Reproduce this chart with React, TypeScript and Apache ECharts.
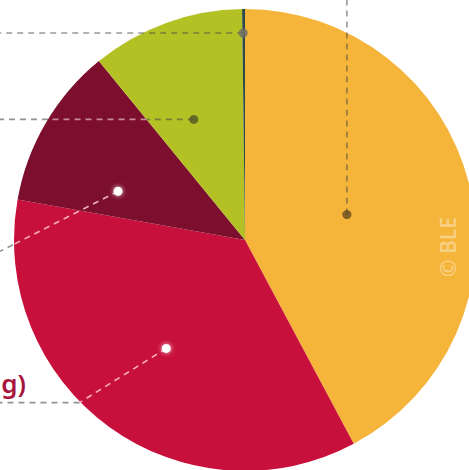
import React, { useEffect, useRef } from "react";
import * as echarts from "echarts";

// Data (shares in %), clockwise from 12 o'clock
const categories = ["Orange", "Rot", "Dunkelrot", "Grün", "Petrol"];
const shares = [42.2, 35.6, 11.3, 10.7, 0.2];
const colors = ["#F5B43A", "#C8103C", "#7C0E2E", "#B4C125", "#2E4A48"];
const labelTexts = ["g)"];

const W = 469;
const H = 470;
const CX = 245;
const CY = 240;
const R = 231;

// Annotation layout: angle (deg, clockwise from top), radius of dot
const annot = [
  { slice: 0, angle: 76, r: 105 },
  { slice: 1, angle: 216, r: 134 },
  { slice: 2, angle: 291, r: 136 },
  { slice: 3, angle: 337, r: 131 },
  { slice: 4, angle: 359.5, r: 207 },
];

function pt(angle: number, r: number) {
  const a = (angle * Math.PI) / 180;
  return [CX + r * Math.sin(a), CY - r * Math.cos(a)];
}

export default function App() {
  const ref = useRef<HTMLDivElement>(null);
  useEffect(() => {
    if (!ref.current) return;
    const chart = echarts.init(ref.current, undefined, { renderer: "svg", width: W, height: H });

    const grey = "rgba(70,70,70,0.55)";
    const pink = "rgba(255,200,215,0.85)";
    const dash = [6, 5];
    const g: any[] = [];
    const seg = (x1: number, y1: number, x2: number, y2: number, color: string) =>
      g.push({
        type: "line",
        shape: { x1, y1, x2, y2 },
        style: { stroke: color, lineWidth: 1.6, lineDash: dash },
        z: 10,
      });
    const dot = (x: number, y: number, fill: string, glow = false) =>
      g.push({
        type: "circle",
        shape: { cx: x, cy: y, r: 4.5 },
        style: glow
          ? { fill, shadowBlur: 5, shadowColor: "rgba(255,255,255,0.8)" }
          : { fill },
        z: 11,
      });
    const edgeHit = (x: number, y: number, dx: number, dy: number) => {
      let t = 0;
      for (let k = 0; k < 2000; k++) {
        const px = x + dx * (k / 1000), py = y + dy * (k / 1000);
        if (Math.hypot(px - CX, py - CY) >= R + 1) { t = k / 1000; break; }
      }
      return [x + dx * t, y + dy * t];
    };

    // Orange: vertical up
    {
      const [x, y] = pt(annot[0].angle, annot[0].r);
      seg(x, y, x, 0, grey);
      dot(x, y, "rgba(90,70,30,0.75)");
    }
    // Red: diagonal to edge then horizontal
    {
      const [x, y] = pt(annot[1].angle, annot[1].r);
      const [ex, ey] = edgeHit(x, y, -88, 55);
      seg(x, y, ex, ey, pink);
      seg(ex, ey, 0, ey, "rgba(120,120,120,0.8)");
      dot(x, y, "#ffffff", true);
    }
    // Dark red: diagonal to edge
    {
      const [x, y] = pt(annot[2].angle, annot[2].r);
      const dx = -108, dy = 55;
      const [ex, ey] = edgeHit(x, y, dx, dy);
      seg(x, y, ex, ey, pink);
      seg(ex, ey, 0, ey + (dy / dx) * (0 - ex), "rgba(120,120,120,0.8)");
      dot(x, y, "#ffffff", true);
    }
    // Green: horizontal left
    {
      const [x, y] = pt(annot[3].angle, annot[3].r);
      const leftEdge = CX - Math.sqrt(R * R - (CY - y) * (CY - y));
      const bAng = (360 * (shares[0] + shares[1] + shares[2])) / 100;
      const [bx, by] = pt(bAng, R);
      const tt = (CY - y) / (CY - by);
      const bnd = CX + (bx - CX) * tt;
      seg(x, y, bnd, y, grey);
      seg(bnd, y, leftEdge, y, "rgba(230,190,200,0.7)");
      seg(leftEdge, y, 0, y, "rgba(120,120,120,0.8)");
      dot(x, y, "rgba(80,85,40,0.8)");
    }
    // Petrol: horizontal left
    {
      const [x, y] = pt(annot[4].angle, annot[4].r);
      seg(x, y, 0, y, grey);
      dot(x, y, "rgba(110,110,100,0.85)");
    }

    g.push({
      type: "text",
      x: 26,
      y: 383,
      style: {
        text: labelTexts[0],
        fill: "#A8153C",
        font: "600 26px 'Noto Sans'",
        align: "right",
        verticalAlign: "middle",
      },
      z: 12,
    });
    g.push({
      type: "text",
      x: 448,
      y: 247,
      rotation: Math.PI / 2,
      style: {
        text: "© BLE",
        fill: "rgba(255,255,255,0.4)",
        font: "600 21px 'Open Sans'",
        align: "center",
        verticalAlign: "middle",
      },
      z: 12,
    });

    chart.setOption({
      animation: false,
      backgroundColor: "#ffffff",
      series: [
        {
          type: "pie",
          center: [CX, CY],
          radius: [0, R],
          startAngle: 90,
          clockwise: true,
          label: { show: false },
          labelLine: { show: false },
          silent: true,
          itemStyle: { borderWidth: 0 },
          data: categories.map((name, i) => ({
            name,
            value: shares[i],
            itemStyle: { color: colors[i] },
          })),
        },
      ],
      graphic: g,
    });
    return () => chart.dispose();
  }, []);
  return (
    <div
      ref={ref}
      style={{ position: "fixed", left: 0, top: 0, width: W, height: H }}
    />
  );
}
